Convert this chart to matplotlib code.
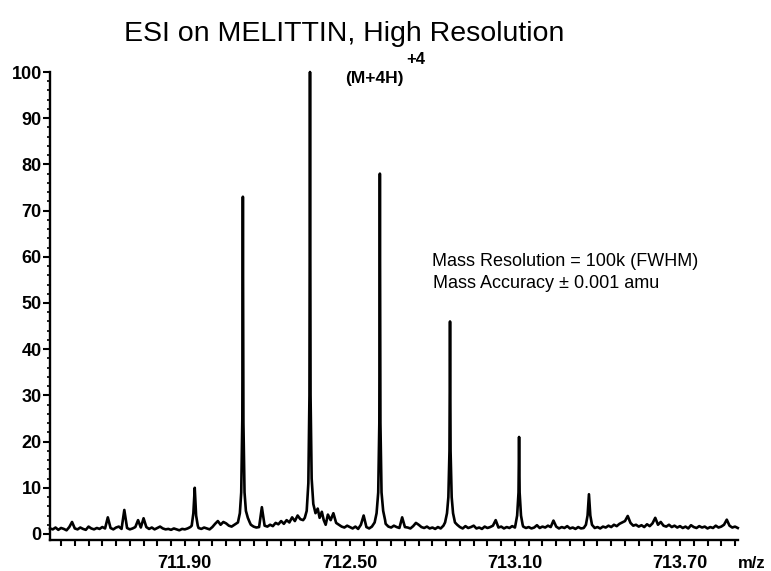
import numpy as np
import matplotlib

matplotlib.use("Agg")
import matplotlib.pyplot as plt
from matplotlib.ticker import MultipleLocator, FormatStrFormatter

plt.rcParams["font.family"] = ["Liberation Sans", "DejaVu Sans"]

# baseline trace, sampled every 0.01 m/z from 711.41 to 713.91 (relative abundance, %)
mz_start, mz_stop = 711.41, 713.91
baseline = [
    1.2, 1.0, 1.4, 0.9, 1.3, 1.1, 0.8, 1.5, 2.6, 1.2,
    1.0, 1.4, 1.1, 0.9, 1.6, 1.2, 1.0, 1.3, 1.1, 1.5,
    1.2, 3.6, 1.3, 1.0, 1.4, 1.6, 1.1, 5.2, 1.3, 1.0,
    1.2, 1.5, 3.0, 1.4, 3.4, 1.5, 1.1, 1.4, 1.0, 1.3,
    1.6, 1.2, 1.0, 1.1, 0.9, 1.2, 1.0, 0.8, 1.1, 1.0,
    1.2, 1.5, 1.5, 1.5, 1.3, 1.1, 1.4, 1.2, 1.0, 1.5,
    2.2, 2.8, 2.0, 2.6, 2.3, 1.8, 1.6, 2.0, 2.4, 3.0,
    3.0, 3.0, 3.0, 2.0, 1.6, 1.4, 1.5, 5.8, 1.8, 1.6,
    2.0, 1.7, 2.4, 2.1, 2.8, 2.2, 3.0, 2.5, 3.6, 2.8,
    4.0, 3.2, 3.0, 3.0, 3.0, 3.0, 3.0, 3.0, 3.0, 3.0,
    2.5, 4.2, 3.0, 4.5, 2.4, 2.0, 1.6, 1.4, 1.8, 1.5,
    1.2, 1.6, 1.1, 2.0, 4.0, 1.5, 1.2, 1.6, 1.4, 2.0,
    2.0, 2.0, 2.2, 1.6, 1.4, 1.8, 1.5, 1.3, 3.6, 1.5,
    1.4, 1.2, 1.7, 2.4, 2.0, 1.5, 1.3, 1.6, 1.2, 1.4,
    1.1, 1.5, 1.2, 1.8, 1.8, 1.8, 1.8, 1.8, 2.0, 1.5,
    1.2, 1.7, 1.3, 1.5, 1.8, 1.2, 1.4, 1.1, 1.6, 1.3,
    1.5, 1.8, 3.0, 1.4, 1.6, 1.2, 1.5, 1.3, 1.7, 1.4,
    1.4, 1.4, 1.6, 1.3, 1.5, 1.2, 1.4, 1.9, 1.3, 1.6,
    1.4, 1.8, 1.5, 2.9, 1.6, 1.2, 1.5, 1.3, 1.7, 1.2,
    1.4, 1.1, 1.5, 1.2, 1.3, 1.3, 1.3, 1.6, 1.3, 1.5,
    1.2, 1.6, 1.4, 1.8, 1.5, 2.0, 1.7, 2.2, 2.5, 2.8,
    3.9, 2.4, 1.8, 2.0, 1.6, 1.9, 1.5, 2.1, 1.7, 2.3,
    3.5, 2.0, 2.6, 1.8, 1.6, 2.0, 1.5, 1.8, 1.4, 1.7,
    1.3, 1.6, 1.2, 1.9, 1.5, 1.3, 1.7, 1.4, 1.6, 1.2,
    1.5, 1.3, 1.8, 1.4, 1.6, 2.0, 3.1, 1.8, 1.4, 1.6,
    1.3,
]

# isotope peaks, finely sampled
peak_mz = [
    [711.925, 711.931, 711.936, 711.941, 711.947],
    [712.093, 712.100, 712.105, 712.109, 712.111, 712.113, 712.117, 712.122, 712.129, 712.136],
    [712.336, 712.343, 712.349, 712.353, 712.355, 712.357, 712.361, 712.367, 712.375,
     712.383, 712.390, 712.398, 712.405, 712.412],
    [712.590, 712.597, 712.603, 712.607, 712.609, 712.611, 712.615, 712.621, 712.628],
    [712.846, 712.853, 712.858, 712.862, 712.864, 712.866, 712.870, 712.875, 712.882],
    [713.102, 713.108, 713.113, 713.115, 713.117, 713.122, 713.128],
    [713.358, 713.364, 713.369, 713.374, 713.380],
]
peak_int = [
    [1.8, 4.5, 10.0, 4.0, 1.8],
    [2.5, 4.5, 9.0, 25.0, 73.0, 24.0, 9.0, 5.0, 3.5, 2.5],
    [3.5, 5.0, 11.0, 30.0, 100.0, 30.0, 12.0, 6.5, 4.5, 5.5, 3.5, 4.8, 3.0, 2.0],
    [2.5, 4.5, 9.0, 24.0, 78.0, 24.0, 9.0, 5.0, 3.0],
    [2.5, 4.5, 8.0, 18.0, 46.0, 18.0, 8.0, 4.5, 2.5],
    [2.0, 4.0, 9.0, 21.0, 9.0, 4.0, 2.0],
    [2.0, 4.0, 8.6, 4.0, 2.0],
]

xticks = [711.90, 712.50, 713.10, 713.70]
yticks = [0, 10, 20, 30, 40, 50, 60, 70, 80, 90, 100]

# merge baseline with peaks
mz = np.linspace(mz_start, mz_stop, len(baseline))
inten = np.array(baseline)
keep = np.ones(len(mz), dtype=bool)
for pm in peak_mz:
    keep &= ~((mz >= pm[0] - 1e-9) & (mz <= pm[-1] + 1e-9))
all_mz = np.concatenate([mz[keep]] + [np.array(p) for p in peak_mz])
all_int = np.concatenate([inten[keep]] + [np.array(p) for p in peak_int])
order = np.argsort(all_mz)
all_mz, all_int = all_mz[order], all_int[order]

fig = plt.figure(figsize=(7.71, 5.71), dpi=100)
ax = fig.add_axes([0.0649, 0.0543, 0.892, 0.8196])
ax.plot(all_mz, all_int, color="black", linewidth=1.9, clip_on=False)

ax.set_xlim(mz_start, mz_stop)
ax.set_ylim(-1.3, 100)
ax.spines["top"].set_visible(False)
ax.spines["right"].set_visible(False)
for s in ("left", "bottom"):
    ax.spines[s].set_linewidth(1.7)

ax.set_xticks(xticks)
ax.xaxis.set_major_formatter(FormatStrFormatter("%.2f"))
ax.xaxis.set_minor_locator(MultipleLocator(0.05))
ax.set_yticks(yticks)
ax.yaxis.set_minor_locator(MultipleLocator(2))
ax.tick_params(axis="x", which="both", direction="out", length=4, width=1.5, pad=7)
ax.tick_params(axis="y", which="major", direction="out", length=5, width=1.5, pad=1)
ax.tick_params(axis="y", which="minor", direction="out", length=2.5, width=1.2)
for lab in ax.get_xticklabels() + ax.get_yticklabels():
    lab.set_fontsize(13)
    lab.set_fontweight("bold")

fig.text(0.447, 1 - 34 / 571, "ESI on MELITTIN, High Resolution", fontsize=20.5,
         ha="center", va="center")
fig.text(0.447, 1 - 79 / 571, "(M+4H)", fontsize=12.5, fontweight="bold",
         ha="left", va="center")
fig.text(0.527, 1 - 60 / 571, "+4", fontsize=12, fontweight="bold",
         ha="left", va="center")
fig.text(0.560, 1 - 262 / 571, "Mass Resolution = 100k (FWHM)", fontsize=13,
         ha="left", va="center")
fig.text(0.5616, 1 - 284 / 571, "Mass Accuracy \u00b1 0.001 amu", fontsize=13,
         ha="left", va="center")
fig.text(752 / 771, 1 - 564 / 571, "m/z", fontsize=12, fontweight="bold",
         ha="center", va="center")

fig.savefig("out.png", dpi=100)
